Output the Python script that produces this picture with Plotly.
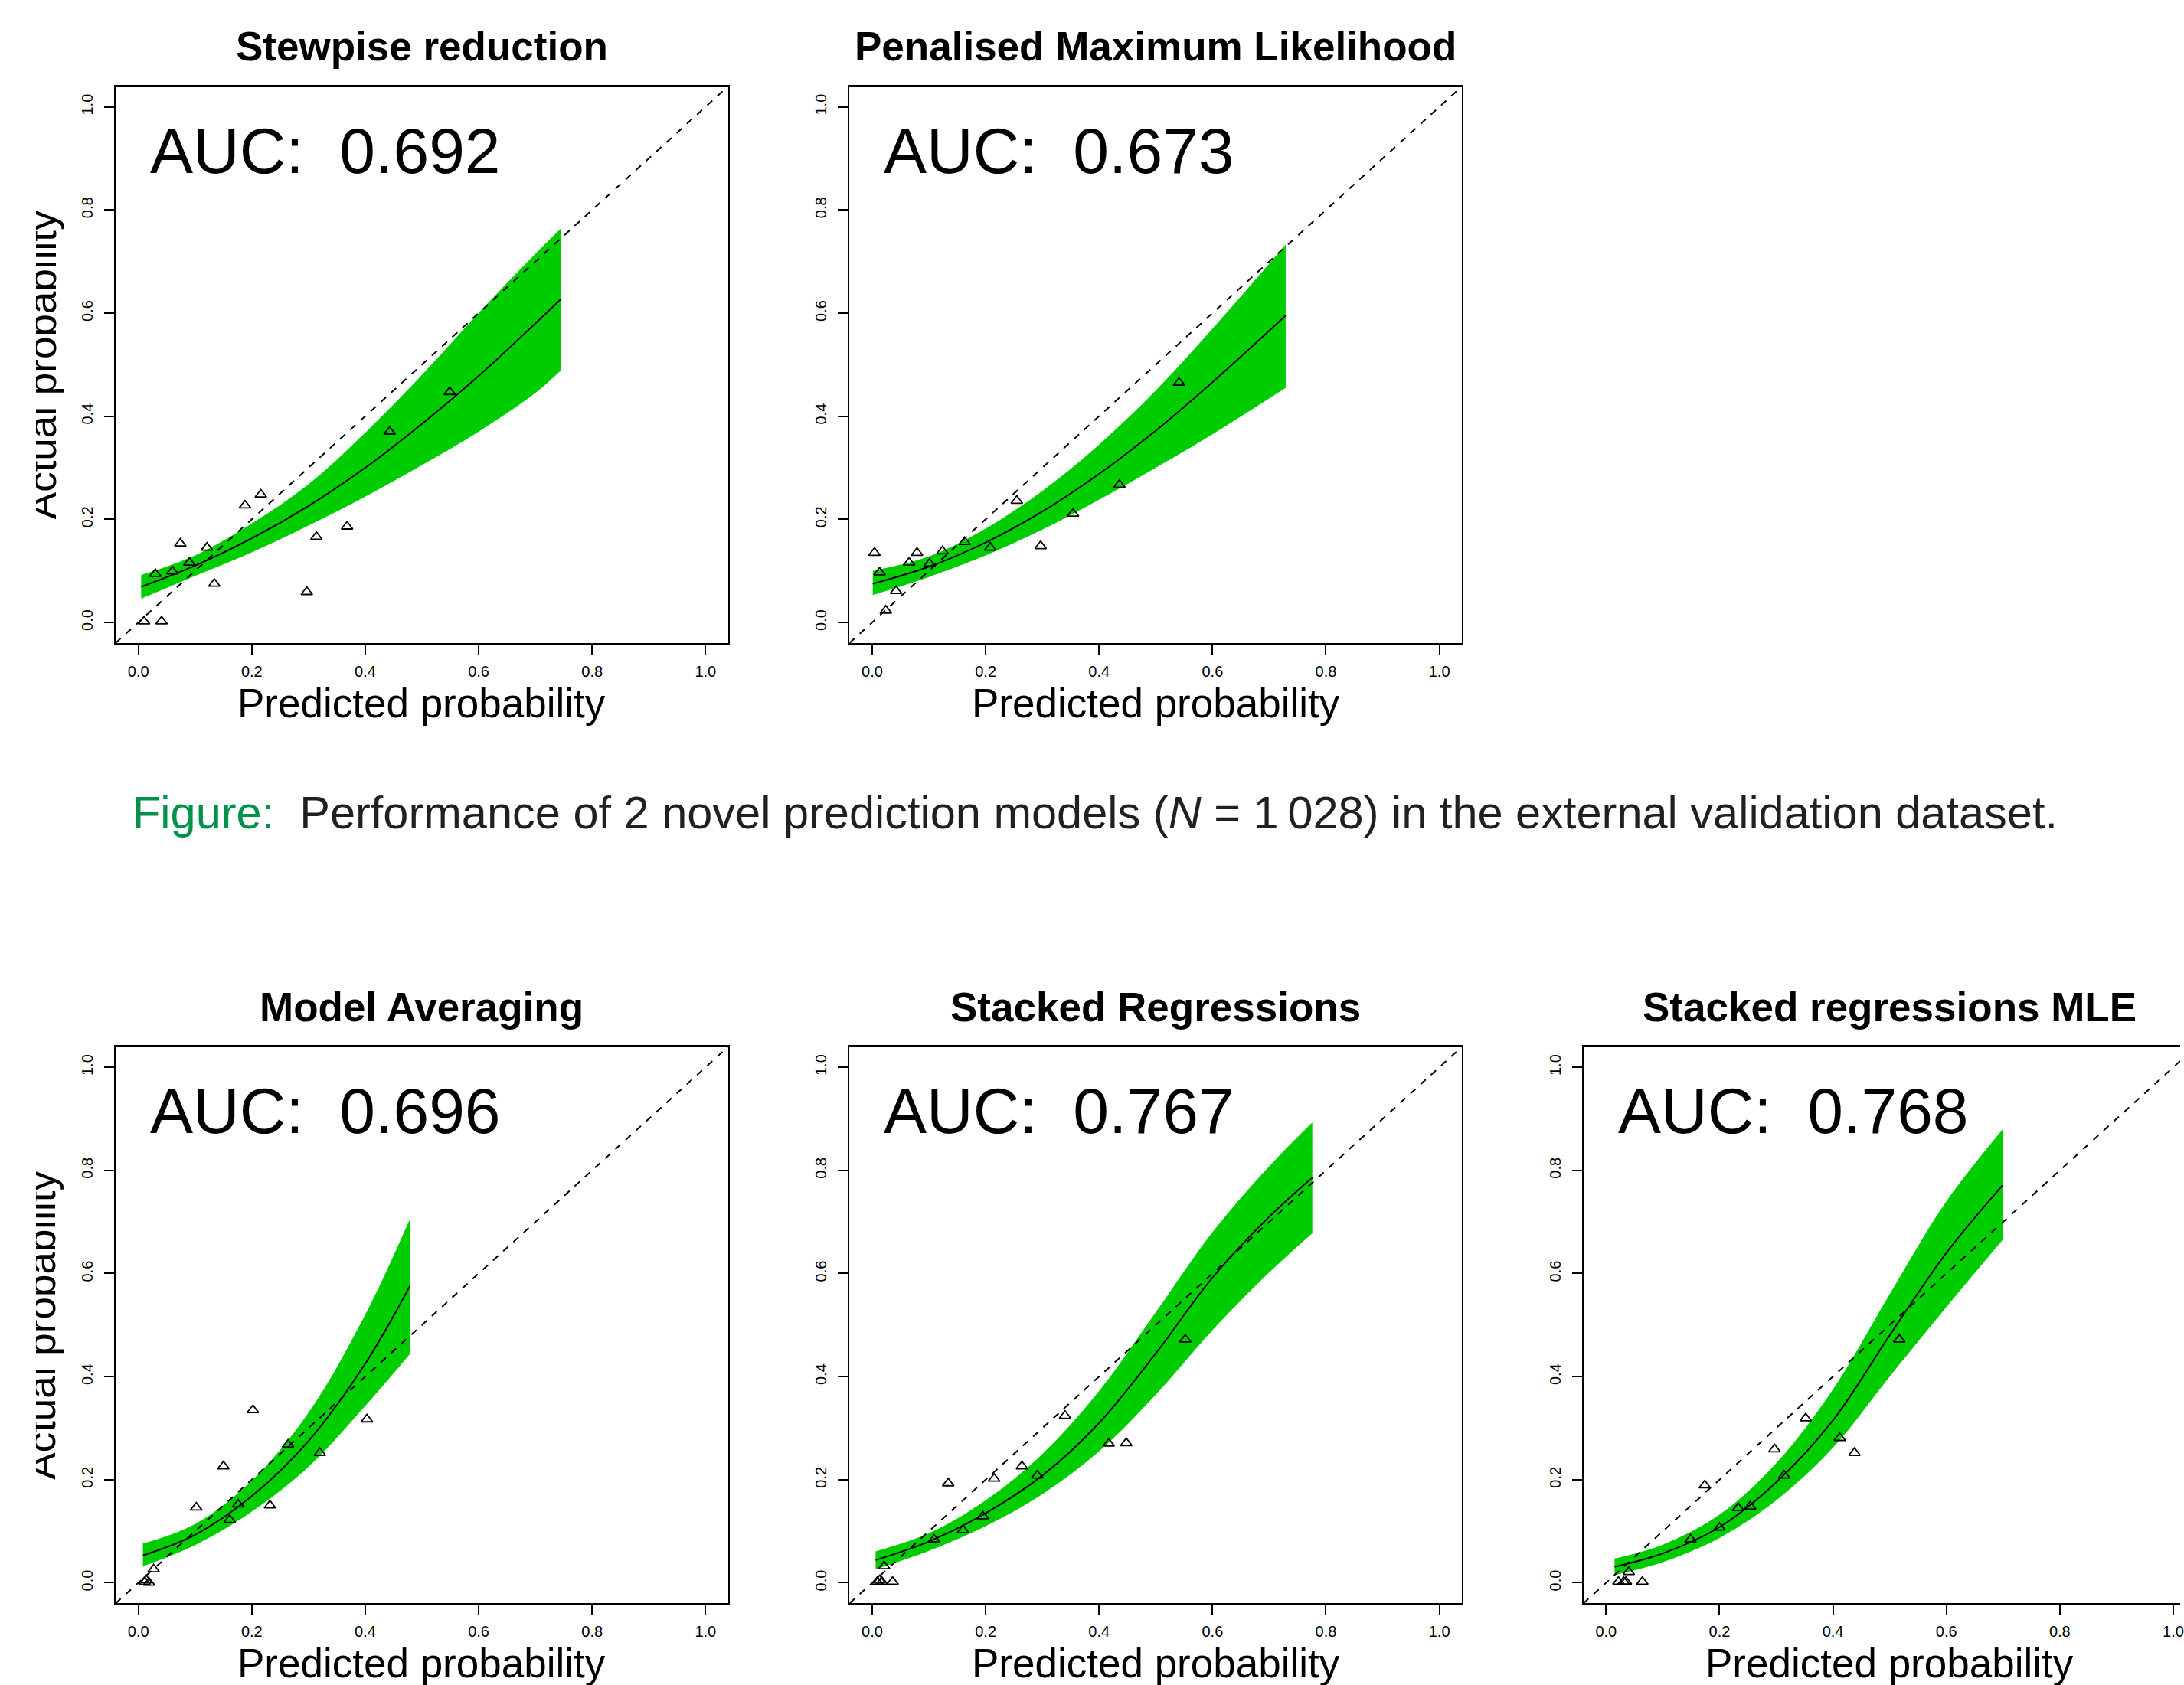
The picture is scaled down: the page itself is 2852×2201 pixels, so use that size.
import plotly.graph_objects as go

# ---------------- data ----------------
TITLES = ["Stewpise reduction", "Penalised Maximum Likelihood", "Model Averaging",
          "Stacked Regressions", "Stacked regressions MLE"]
AUC = ["0.692", "0.673", "0.696", "0.767", "0.768"]

# observed (grouped) points: predicted vs actual
P1_X = [0.010, 0.041, 0.030, 0.060, 0.074, 0.090, 0.121, 0.134, 0.188, 0.216, 0.297, 0.314, 0.368, 0.443, 0.549]
P1_Y = [0.002, 0.002, 0.094, 0.099, 0.153, 0.116, 0.145, 0.075, 0.227, 0.248, 0.059, 0.166, 0.186, 0.370, 0.447]
P2_X = [0.004, 0.013, 0.024, 0.042, 0.065, 0.079, 0.101, 0.124, 0.163, 0.208, 0.255, 0.297, 0.354, 0.436, 0.541]
P2_Y = [0.135, 0.097, 0.023, 0.061, 0.116, 0.135, 0.114, 0.138, 0.156, 0.145, 0.236, 0.148, 0.211, 0.267, 0.465]
P3_X = [0.011, 0.014, 0.019, 0.027, 0.102, 0.150, 0.161, 0.176, 0.202, 0.232, 0.264, 0.320, 0.403]
P3_Y = [0.002, 0.005, 0.000, 0.026, 0.146, 0.226, 0.122, 0.152, 0.335, 0.150, 0.268, 0.252, 0.317]
P4_X = [0.009, 0.013, 0.017, 0.021, 0.036, 0.109, 0.134, 0.160, 0.195, 0.215, 0.264, 0.291, 0.340, 0.417, 0.448, 0.552]
P4_Y = [0.002, 0.005, 0.002, 0.032, 0.002, 0.084, 0.193, 0.102, 0.129, 0.202, 0.226, 0.208, 0.324, 0.270, 0.271, 0.472]
P5_X = [0.022, 0.031, 0.035, 0.040, 0.064, 0.149, 0.174, 0.200, 0.233, 0.254, 0.297, 0.314, 0.352, 0.412, 0.438, 0.517]
P5_Y = [0.002, 0.002, 0.002, 0.021, 0.002, 0.084, 0.189, 0.107, 0.145, 0.148, 0.259, 0.208, 0.319, 0.281, 0.252, 0.472]

# calibration curve and its confidence band
C1_X = [0.005, 0.1, 0.2, 0.3, 0.4, 0.5, 0.6, 0.7, 0.745]
C1_FIT = [0.069, 0.110, 0.163, 0.226, 0.300, 0.385, 0.478, 0.580, 0.627]
C1_HI = [0.092, 0.130, 0.192, 0.268, 0.368, 0.480, 0.600, 0.715, 0.764]
C1_LO = [0.046, 0.090, 0.136, 0.188, 0.244, 0.305, 0.370, 0.445, 0.489]

C2_X = [0.001, 0.1, 0.2, 0.3, 0.4, 0.5, 0.6, 0.729]
C2_FIT = [0.075, 0.108, 0.155, 0.215, 0.288, 0.372, 0.466, 0.595]
C2_HI = [0.100, 0.128, 0.182, 0.255, 0.345, 0.450, 0.570, 0.733]
C2_LO = [0.053, 0.088, 0.130, 0.180, 0.238, 0.300, 0.365, 0.455]

C3_X = [0.008, 0.1, 0.2, 0.3, 0.4, 0.479]
C3_FIT = [0.053, 0.093, 0.168, 0.275, 0.425, 0.576]
C3_HI = [0.076, 0.114, 0.198, 0.330, 0.520, 0.706]
C3_LO = [0.032, 0.073, 0.138, 0.225, 0.343, 0.444]

C4_X = [0.006, 0.1, 0.2, 0.3, 0.4, 0.5, 0.6, 0.7, 0.776]
C4_FIT = [0.044, 0.080, 0.135, 0.208, 0.310, 0.445, 0.592, 0.710, 0.786]
C4_HI = [0.061, 0.096, 0.160, 0.250, 0.372, 0.525, 0.680, 0.808, 0.893]
C4_LO = [0.026, 0.062, 0.110, 0.172, 0.255, 0.365, 0.490, 0.602, 0.678]

C5_X = [0.015, 0.1, 0.2, 0.3, 0.4, 0.5, 0.6, 0.699]
C5_FIT = [0.031, 0.057, 0.108, 0.195, 0.315, 0.480, 0.640, 0.771]
C5_HI = [0.047, 0.074, 0.132, 0.232, 0.375, 0.560, 0.740, 0.879]
C5_LO = [0.015, 0.040, 0.087, 0.160, 0.262, 0.400, 0.535, 0.665]

DIAG = [-0.04, 1.04]
TICKS = [0.0, 0.2, 0.4, 0.6, 0.8, 1.0]
TICK_TEXT = ["0.0", "0.2", "0.4", "0.6", "0.8", "1.0"]

POINTS = [(P1_X, P1_Y), (P2_X, P2_Y), (P3_X, P3_Y), (P4_X, P4_Y), (P5_X, P5_Y)]
CURVES = [(C1_X, C1_FIT, C1_LO, C1_HI), (C2_X, C2_FIT, C2_LO, C2_HI),
          (C3_X, C3_FIT, C3_LO, C3_HI), (C4_X, C4_FIT, C4_LO, C4_HI),
          (C5_X, C5_FIT, C5_LO, C5_HI)]

CAPTION_LABEL = "Figure:"
CAPTION_TEXT = "Performance of 2 novel prediction models (<i>N</i> = 1\u2009028) in the external validation dataset."
XLAB = "Predicted probability"
YLAB = "Actual probability"

# ---------------- layout geometry (pixels) ----------------
W, H = 2852, 2201
GREEN = "#00CD00"
SANS = "Liberation Sans, Arial, Helvetica, sans-serif"

BOX_L, BOX_R = 151.3, 952.6      # panel box, first column
BOX_T, BOX_B = 112.7, 839.9      # panel box, first row
COL_OFF = [0, 960, 1920]
ROW_OFF = [0, 1254.5]
PANEL_POS = [(0, 0), (0, 1), (1, 0), (1, 1), (1, 2)]   # (row, col)
PX_PER_UNIT = (BOX_R - BOX_L) / 1.08


def px(x):
    return x / W


def py(y):
    return 1 - y / H


fig = go.Figure()
layout = dict(width=W, height=H, margin=dict(l=0, r=0, t=0, b=0),
              paper_bgcolor="white", plot_bgcolor="white", showlegend=False,
              font=dict(family=SANS, color="black"))
annotations = []

for i, (row, col) in enumerate(PANEL_POS):
    n = i + 1
    xa = "x" if n == 1 else f"x{n}"
    ya = "y" if n == 1 else f"y{n}"
    left = BOX_L + COL_OFF[col]
    right = BOX_R + COL_OFF[col]
    top = BOX_T + ROW_OFF[row]
    bottom = BOX_B + ROW_OFF[row]
    xmax = 1.04
    if right > W:
        xmax = -0.04 + (W - left) / PX_PER_UNIT
        right = W
    cx, cfit, clo, chi = CURVES[i]
    pxs, pys = POINTS[i]

    fig.add_trace(go.Scatter(x=cx, y=clo, mode="lines", line=dict(width=0, shape="spline", color=GREEN),
                             xaxis=xa, yaxis=ya, hoverinfo="skip"))
    fig.add_trace(go.Scatter(x=cx, y=chi, mode="lines", line=dict(width=0, shape="spline", color=GREEN),
                             fill="tonexty", fillcolor=GREEN, xaxis=xa, yaxis=ya, hoverinfo="skip"))
    fig.add_trace(go.Scatter(x=DIAG, y=DIAG, mode="lines",
                             line=dict(color="black", width=2, dash="9px,9px"), xaxis=xa, yaxis=ya))
    fig.add_trace(go.Scatter(x=cx, y=cfit, mode="lines",
                             line=dict(color="black", width=2, shape="spline"), xaxis=xa, yaxis=ya))
    fig.add_trace(go.Scatter(x=pxs, y=pys, mode="markers",
                             marker=dict(symbol="triangle-up-open", size=13, color="black",
                                         line=dict(width=1.8, color="black")),
                             xaxis=xa, yaxis=ya, cliponaxis=False))

    common = dict(showgrid=False, zeroline=False, showline=True, linecolor="black", linewidth=2,
                  ticks="outside", ticklen=13, tickwidth=2, tickcolor="black",
                  tickvals=TICKS, ticktext=TICK_TEXT, ticklabeloverflow="allow",
                  tickfont=dict(family=SANS, size=20, color="black"), fixedrange=True)
    layout["xaxis" if n == 1 else f"xaxis{n}"] = dict(
        common, domain=[px(left), px(right)], range=[-0.04, xmax], anchor=ya,
        mirror=True, ticklabelstandoff=5)
    layout["yaxis" if n == 1 else f"yaxis{n}"] = dict(
        common, domain=[py(bottom), py(top)], range=[-0.04, 1.04], anchor=xa,
        mirror=(right < W), tickangle=-90, ticklabelstandoff=7)

    bx = (BOX_L + BOX_R) / 2 + COL_OFF[col]
    # title
    annotations.append(dict(text=f"<b>{TITLES[i]}</b>", x=px(bx), y=py(61 + ROW_OFF[row]),
                            xref="paper", yref="paper", xanchor="center", yanchor="middle",
                            showarrow=False, font=dict(family=SANS, size=53, color="black")))
    # AUC
    annotations.append(dict(text=f"AUC:\u00a0 {AUC[i]}", x=px(194.5 + COL_OFF[col]), y=py(196.5 + ROW_OFF[row]),
                            xref="paper", yref="paper", xanchor="left", yanchor="middle",
                            showarrow=False, font=dict(family=SANS, size=84, color="black")))
    # x label
    annotations.append(dict(text=XLAB, x=px(bx), y=py(918 + ROW_OFF[row]),
                            xref="paper", yref="paper", xanchor="center", yanchor="middle",
                            showarrow=False, font=dict(family=SANS, size=53, color="black")))
    if col == 0:
        cy = (BOX_T + BOX_B) / 2 + ROW_OFF[row]
        annotations.append(dict(text=YLAB, x=px(54), y=py(cy), textangle=-90,
                                xref="paper", yref="paper", xanchor="center", yanchor="middle",
                                showarrow=False, font=dict(family=SANS, size=53, color="black")))
        # the original figure is cropped at its left edge, hiding the tops of the label
        annotations.append(dict(text=" ", x=0, y=py(cy), xref="paper", yref="paper",
                                xanchor="left", yanchor="middle", width=47, height=470,
                                bgcolor="white", borderpad=0, borderwidth=0, showarrow=False))

# caption
annotations.append(dict(text=f"<span style='color:#00914A'>{CAPTION_LABEL}</span>\u00a0 {CAPTION_TEXT}",
                        x=px(171), y=py(1062), xref="paper", yref="paper",
                        xanchor="left", yanchor="middle", showarrow=False,
                        font=dict(family=SANS, size=59.5, color="#231F20")))

layout["annotations"] = annotations
fig.update_layout(**layout)

fig.write_html("out.html", config={"displayModeBar": False, "staticPlot": True},
               post_script="document.body.style.margin='0';document.body.style.overflow='hidden';")
